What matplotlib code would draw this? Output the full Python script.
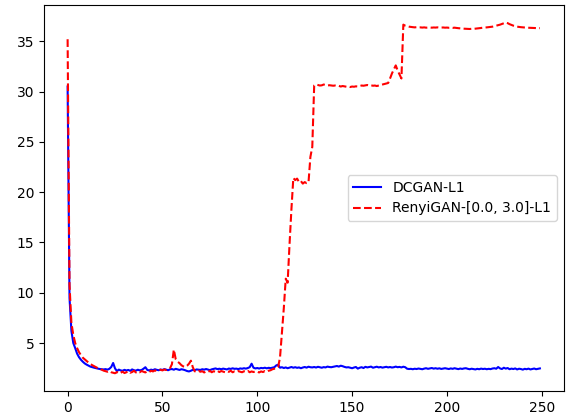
import matplotlib
matplotlib.use("Agg")
import matplotlib.pyplot as plt
import numpy as np

epochs = list(range(250))

dcgan_l1 = [
    30.5, 9.5, 6.2, 5.0, 4.5, 3.95, 3.6, 3.35, 3.15, 2.98,
    2.86, 2.76, 2.66, 2.6, 2.55, 2.5, 2.46, 2.42, 2.4, 2.38,
    2.41, 2.36, 2.44, 2.62, 3.02, 2.48, 2.22, 2.36, 2.28, 2.25,
    2.34, 2.27, 2.33, 2.24, 2.38, 2.3, 2.26, 2.35, 2.29, 2.32,
    2.45, 2.6, 2.33, 2.28, 2.36, 2.31, 2.4, 2.34, 2.3, 2.37,
    2.33, 2.41, 2.36, 2.3, 2.39, 2.42, 2.35, 2.44, 2.38, 2.33,
    2.4, 2.36, 2.3, 2.22, 2.18, 2.25, 2.34, 2.3, 2.38, 2.35,
    2.33, 2.4, 2.36, 2.42, 2.37, 2.31, 2.39, 2.44, 2.48, 2.41,
    2.45, 2.4, 2.46, 2.42, 2.38, 2.47, 2.43, 2.49, 2.44, 2.46,
    2.41, 2.48, 2.45, 2.5, 2.46, 2.52, 2.6, 2.95, 2.55, 2.48,
    2.52, 2.47, 2.53, 2.5, 2.55, 2.49, 2.54, 2.51, 2.56, 2.6,
    2.78, 2.85, 2.55, 2.6, 2.52, 2.58, 2.5, 2.56, 2.62, 2.55,
    2.6, 2.54, 2.58, 2.5, 2.57, 2.62, 2.56, 2.65, 2.6, 2.58,
    2.62, 2.57, 2.64, 2.6, 2.55, 2.61, 2.58, 2.66, 2.62, 2.6,
    2.64, 2.68, 2.72, 2.66, 2.75, 2.7, 2.63, 2.58, 2.6, 2.55,
    2.5, 2.57, 2.62, 2.46, 2.55, 2.6, 2.52, 2.64, 2.58, 2.62,
    2.66, 2.55, 2.6, 2.65, 2.58, 2.62, 2.56, 2.6, 2.64, 2.58,
    2.62, 2.57, 2.6, 2.66, 2.6, 2.63, 2.58, 2.65, 2.6, 2.45,
    2.42, 2.44, 2.4, 2.45, 2.42, 2.47, 2.43, 2.4, 2.46, 2.5,
    2.44, 2.48, 2.52, 2.46, 2.5, 2.45, 2.49, 2.43, 2.47, 2.5,
    2.46, 2.42, 2.48, 2.44, 2.5, 2.45, 2.41, 2.47, 2.43, 2.48,
    2.5, 2.44, 2.4, 2.45, 2.42, 2.38, 2.44, 2.4, 2.46, 2.42,
    2.45, 2.4, 2.44, 2.41, 2.47, 2.5, 2.45, 2.62, 2.48, 2.42,
    2.55, 2.46, 2.52, 2.4, 2.46, 2.42, 2.48, 2.38, 2.45, 2.42,
    2.36, 2.44, 2.4, 2.46, 2.38, 2.42, 2.47, 2.4, 2.44, 2.48,
]

renyigan_l1 = [
    35.2, 10.8, 7.0, 5.8, 5.0, 4.5, 4.1, 3.8, 3.55, 3.38,
    3.22, 3.06, 2.92, 2.8, 2.7, 2.6, 2.5, 2.43, 2.35, 2.26,
    2.2, 2.15, 2.22, 2.1, 2.05, 2.0, 2.12, 1.98, 2.05, 2.16,
    2.02, 2.1, 2.2, 2.05, 2.12, 2.25, 2.08, 2.18, 2.1, 2.22,
    2.15, 2.08, 2.2, 2.12, 2.25, 2.18, 2.28, 2.22, 2.3, 2.35,
    2.28, 2.38, 2.32, 2.45, 2.5, 2.9, 4.35, 3.4, 3.15, 3.0,
    2.8, 2.68, 2.62, 2.75, 2.95, 3.25, 2.6, 2.2, 2.12, 2.25,
    2.15, 2.2, 2.08, 2.18, 2.12, 2.24, 2.1, 2.2, 2.14, 2.25,
    2.12, 2.22, 2.16, 2.1, 2.2, 2.14, 2.25, 2.1, 2.18, 2.12,
    2.22, 2.15, 2.1, 2.2, 2.13, 2.24, 2.1, 2.18, 2.12, 2.2,
    2.15, 2.08, 2.18, 2.12, 2.22, 2.15, 2.25, 2.3, 2.4, 2.45,
    2.45, 2.6, 3.6, 6.0, 8.5, 11.4, 11.0, 14.8, 18.3, 21.4,
    21.2, 21.35, 21.0, 21.1, 20.85, 21.0, 20.9, 20.95, 23.5, 24.5,
    30.6, 30.7, 30.65, 30.6, 30.62, 30.7, 30.65, 30.6, 30.63, 30.6,
    30.58, 30.6, 30.55, 30.57, 30.5, 30.55, 30.52, 30.48, 30.5, 30.45,
    30.5, 30.48, 30.52, 30.5, 30.55, 30.6, 30.58, 30.62, 30.65, 30.6,
    30.62, 30.58, 30.6, 30.55, 30.6, 30.65, 30.7, 30.75, 30.8, 30.85,
    31.3, 31.8, 32.2, 32.6, 32.1, 31.7, 31.3, 36.65, 36.55, 36.5,
    36.45, 36.42, 36.4, 36.38, 36.4, 36.37, 36.38, 36.36, 36.38, 36.35,
    36.36, 36.38, 36.35, 36.37, 36.36, 36.38, 36.35, 36.36, 36.37, 36.35,
    36.36, 36.34, 36.35, 36.33, 36.35, 36.32, 36.3, 36.28, 36.26, 36.25,
    36.24, 36.23, 36.22, 36.24, 36.23, 36.25, 36.28, 36.3, 36.32, 36.35,
    36.36, 36.38, 36.4, 36.42, 36.45, 36.5, 36.55, 36.6, 36.65, 36.72,
    36.8, 36.86, 36.8, 36.7, 36.62, 36.55, 36.5, 36.45, 36.42, 36.4,
    36.38, 36.36, 36.35, 36.34, 36.33, 36.32, 36.32, 36.31, 36.32, 36.3,
]

labels = ["DCGAN-L1", "RenyiGAN-[0.0, 3.0]-L1"]

fig = plt.figure(figsize=(5.66, 4.19), dpi=100)
ax = fig.add_axes([44 / 566, 28 / 419, 519.5 / 566, 386 / 419])
ax.plot(epochs, dcgan_l1, "b-", label=labels[0])
ax.plot(epochs, renyigan_l1, "r--", label=labels[1])
ax.set_yticks([5, 10, 15, 20, 25, 30, 35])
ax.set_xticks([0, 50, 100, 150, 200, 250])
ax.legend(loc="center right")
fig.savefig("out.png", dpi=100)
